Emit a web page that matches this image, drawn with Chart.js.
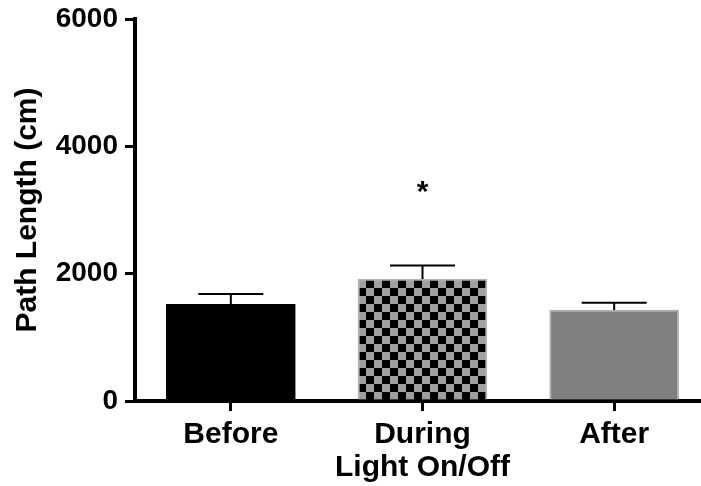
<!DOCTYPE html>
<html>
<head>
<meta charset="utf-8">
<script src="https://cdn.jsdelivr.net/npm/chart.js@4.4.1/dist/chart.umd.min.js"></script>
<style>
  html, body { margin: 0; padding: 0; overflow: hidden; background: #fff; }
  canvas { display: block; }
</style>
</head>
<body>
<canvas id="c" width="710" height="486"></canvas>
<script>
// ---- data ----
const categories = ["Before", "During", "After"];
const meanPath = [1520, 1915, 1430];
const semPath = [160, 215, 115];
const significant = [false, true, false];
const yTicks = [0, 2000, 4000, 6000];
const xTitle = "Light On/Off";
const yTitle = "Path Length (cm)";

const FONT = "'Liberation Sans', Arial, Helvetica, sans-serif";

// checkerboard pattern for "During"
function checker() {
  const pc = document.createElement('canvas');
  pc.width = 16; pc.height = 16;
  const g = pc.getContext('2d');
  g.fillStyle = '#a0a0a0'; g.fillRect(0, 0, 16, 16);
  g.fillStyle = '#000000';
  g.fillRect(0, 0, 8, 8);
  g.fillRect(8, 8, 8, 8);
  const ctx = document.getElementById('c').getContext('2d');
  const p = ctx.createPattern(pc, 'repeat');
  if (p.setTransform) p.setTransform(new DOMMatrix().translate(14, 8));
  return p;
}

const errorBarPlugin = {
  id: 'errorBars',
  afterDatasetsDraw(chart) {
    const ctx = chart.ctx;
    const x = chart.scales.x, y = chart.scales.y;
    ctx.save();
    ctx.strokeStyle = '#000';
    ctx.lineWidth = 2;
    meanPath.forEach((m, i) => {
      const cx = x.getPixelForValue(i);
      const yTop = y.getPixelForValue(m + semPath[i]);
      const yBar = y.getPixelForValue(m);
      ctx.beginPath();
      ctx.moveTo(cx, yBar);
      ctx.lineTo(cx, yTop);
      ctx.moveTo(cx - 32.5, yTop);
      ctx.lineTo(cx + 32.5, yTop);
      ctx.stroke();
      if (significant[i]) {
        ctx.fillStyle = '#000';
        ctx.font = 'bold 30px ' + FONT;
        ctx.textAlign = 'center';
        ctx.textBaseline = 'middle';
        ctx.fillText('*', cx, yTop - 73);
      }
    });
    ctx.restore();
  }
};

new Chart(document.getElementById('c'), {
  type: 'bar',
  data: {
    labels: categories,
    datasets: [{
      data: meanPath,
      backgroundColor: ['#000000', checker(), '#808080'],
      borderColor: ['#000000', '#b4b4b4', '#b0b0b0'],
      borderWidth: 2,
      borderSkipped: 'bottom',
      barThickness: 129
    }]
  },
  options: {
    responsive: false,
    animation: false,
    devicePixelRatio: 1,
    layout: { padding: { top: 19, right: 0, bottom: 0, left: 0 } },
    plugins: { legend: { display: false }, tooltip: { enabled: false } },
    scales: {
      x: {
        grid: { display: true, drawOnChartArea: false, offset: false, color: '#000', lineWidth: 3, tickLength: 10 },
        border: { display: true, color: '#000', width: 4 },
        ticks: { color: '#000', font: { family: FONT, size: 30, weight: 'bold' }, padding: 6, maxRotation: 0 },
        title: { display: true, text: xTitle, color: '#000', font: { family: FONT, size: 30, weight: 'bold' }, padding: { top: 0, bottom: 0 } },
        afterFit(s) { s.height = 85; }
      },
      y: {
        min: 0, max: 6000,
        afterBuildTicks(s) { s.ticks = yTicks.map(v => ({ value: v })); },
        grid: { display: true, drawOnChartArea: false, color: '#000', lineWidth: 3, tickLength: 10 },
        border: { display: true, color: '#000', width: 4 },
        ticks: { color: '#000', font: { family: FONT, size: 28, weight: 'bold', lineHeight: 1 }, padding: 7, callback: v => String(v) },
        title: { display: true, text: yTitle, color: '#000', font: { family: FONT, size: 30, weight: 'bold' }, padding: { top: 10, bottom: 0 } },
        afterFit(s) { s.width = 135; s.paddingTop = 0; s.paddingBottom = 0; }
      }
    }
  },
  plugins: [errorBarPlugin]
});
</script>
</body>
</html>
